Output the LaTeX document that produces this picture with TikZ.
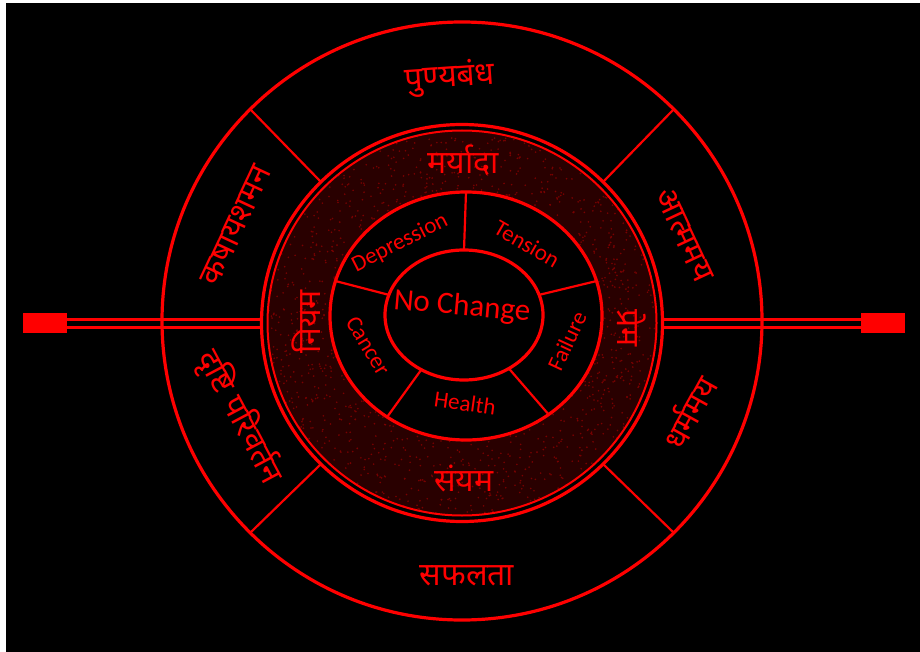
\documentclass[tikz,border=0pt]{standalone}
\usepackage{fontspec}
\setmainfont{Carlito}
\newfontfamily\devfont[Script=Devanagari]{Noto Sans}
\usetikzlibrary{shapes.geometric}

\begin{document}
\begin{tikzpicture}[x=1pt, y=-1pt,
    loop/.style={ellipse, draw=red, inner sep=0pt, outer sep=0pt},
    spoke/.style={draw=red, line width=2.2pt},
    wire/.style={draw=red, line width=3pt},
    bar/.style={fill=red, inner sep=0pt, minimum width=44pt, minimum height=20pt},
    hindi/.style={text=red, font=\devfont\fontsize{32}{36}\selectfont},
    english/.style={text=red, font=\fontsize{23}{26}\selectfont}]
  \useasboundingbox (0,0) rectangle (920,652);
  \fill[white] (0,0) rectangle (920,652);
  \fill[black] (6,3) rectangle (920,652);

  % speckled band
  \begin{scope}
    \clip (462,323) ellipse [x radius=195pt, y radius=193pt];
    \fill[red!16!black] (262,123) rectangle (662,523);
    \pgfmathsetseed{11}
    \foreach \i in {1,...,2600}
      \fill[red!48!black] (262+400*rnd, 123+400*rnd) circle (0.9pt);
  \end{scope}

  \node[loop, line width=3.2pt, minimum width=600pt, minimum height=598pt] (rim) at (462,321) {};
  \node[loop, line width=3.2pt, minimum width=401pt, minimum height=397pt] (ring) at (462,323) {};
  \node[loop, line width=2pt, minimum width=389pt, minimum height=385pt] (ringin) at (462,323) {};
  \node[loop, line width=3.2pt, fill=black, minimum width=272pt, minimum height=248pt] (mid) at (466,316) {};
  \node[loop, line width=3.2pt, minimum width=158pt, minimum height=130pt] (core) at (464,315) {};

  \foreach \a in {45,135,225,315}
    \draw[spoke] (ring.\a) -- (rim.\a);
  \foreach \a in {90,15,165,232,310}
    \draw[spoke] (core.\a) -- (mid.\a);

  \node[bar] (lbar) at (45,323) {};
  \node[bar] (rbar) at (883,323) {};
  \draw[wire] ([yshift=4pt]lbar.east) -- ([yshift=4pt]ring.west);
  \draw[wire] ([yshift=-4pt]lbar.east) -- ([yshift=-4pt]ring.west);
  \draw[wire] ([yshift=4pt]rbar.west) -- ([yshift=4pt]ring.east);
  \draw[wire] ([yshift=-4pt]rbar.west) -- ([yshift=-4pt]ring.east);

  % outer band
  \node[hindi, rotate=4] (punya) at (450,78) {पुण्यबंध};
  \node[hindi, rotate=-65] (atma) at (684,235) {आत्ममय};
  \node[hindi, rotate=61] (dharma) at (688,412) {धर्ममय};
  \node[hindi] (safal) at (467,576) {सफलता};
  \node[hindi, rotate=-62] (drishti) at (240,417) {दृष्टि परिवर्तन};
  \node[hindi, rotate=65] (kashay) at (236,225) {कषायशमन};

  % speckled band
  \node[hindi] (maryada) at (463,160) {मर्यादा};
  \node[hindi, rotate=90] (niyam) at (306,322) {नियम};
  \node[hindi, rotate=-90] (prem) at (632,328) {प्रेम};
  \node[hindi] (sanyam) at (464,478) {संयम};

  % inner band
  \node[english, rotate=27] (depr) at (400,243) {Depression};
  \node[english, rotate=-30] (tens) at (527,244) {Tension};
  \node[english, rotate=65] (fail) at (567,341) {Failure};
  \node[english, rotate=-8] (heal) at (465,403) {Health};
  \node[english, rotate=-59] (canc) at (368,346) {Cancer};
  \node[english, rotate=-5, font=\fontsize{31}{34}\selectfont] (none) at (462,307) {No Change};
\end{tikzpicture}
\end{document}
